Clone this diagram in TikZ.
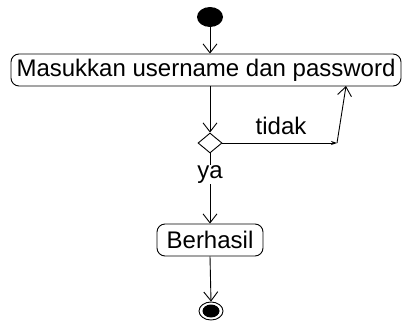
\documentclass[tikz,border=0pt]{standalone}
\usepackage{fontspec}
\setmainfont{Liberation Sans}
\usetikzlibrary{arrows.meta, shapes.geometric}

\begin{document}
\begin{tikzpicture}[x=1pt, y=-1pt, line width=0.9pt,
        act/.style={rectangle, draw, rounded corners=8pt,
                    inner xsep=5pt, inner ysep=0pt, minimum height=32pt,
                    font=\fontsize{24}{28}\selectfont},
        lbl/.style={inner sep=1pt, font=\fontsize{24}{28}\selectfont},
        arr/.style={-{Straight Barb[length=9pt,width=14pt]}},
        sarr/.style={-{Stealth[length=6pt,width=4pt]}}]
      \useasboundingbox (0,0) rectangle (403,324);
      \node[ellipse, fill=black, minimum width=26pt, minimum height=20pt, inner sep=0pt] (start) at (210,17) {};
      \node[act, minimum width=390pt] (masuk) at (206,70) {Masukkan username dan password};
      \node[diamond, draw, minimum width=24pt, minimum height=20pt, inner sep=0pt] (dec) at (210,143) {};
      \node[act, minimum width=106pt] (ok) at (210,240) {Berhasil};
      \node[ellipse, draw, minimum width=24pt, minimum height=18pt, inner sep=0pt] (end) at (211,311) {};
      \fill (end.center) ellipse [x radius=8.5pt, y radius=6.5pt];
      \node[lbl] (tidak) at (281,126) {tidak};
      \coordinate (bend) at (337,143);
      \coordinate (back) at (346,86);
      \draw[arr] (start) -- (start |- masuk.north);
      \draw[arr] (dec.north |- masuk.south) -- (dec.north);
      \draw[sarr] (dec.east) -- (bend);
      \draw[arr] (bend) -- (back);
      \draw[arr] (dec.south) -- node[lbl, pos=0.3, fill=white] (ya) {ya} (ok.north);
      \draw[arr] (ok.south) -- (end.north);
    \end{tikzpicture}
\end{document}
